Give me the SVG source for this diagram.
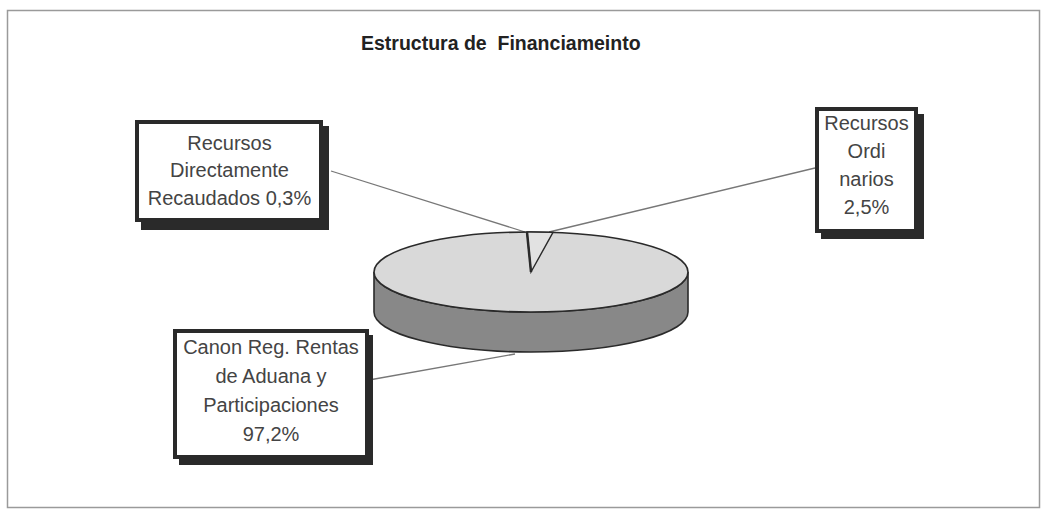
<svg xmlns="http://www.w3.org/2000/svg" width="1049" height="510" viewBox="0 0 1049 510">
<defs>
<style>
.frame{fill:none;stroke:#9a9a9a;stroke-width:1.5}
.title{font-family:"Liberation Sans",Arial,sans-serif;font-weight:bold;font-size:19.5px;fill:#222}
.lbl{font-family:"Liberation Sans",Arial,sans-serif;font-size:20px;fill:#444;text-anchor:middle}
.shadow{fill:#2a2a2a}
.box{fill:#fff;stroke:#2a2a2a;stroke-width:4}
.lead{fill:none;stroke:#777;stroke-width:1.3}
.top{fill:#d9d9d9;stroke:#2a2a2a;stroke-width:1.6}
.side{fill:#888;stroke:#2a2a2a;stroke-width:1.6}
</style>
</defs>
<rect width="1049" height="510" fill="#fff"/>
<rect class="frame" x="7.5" y="10.5" width="1032" height="497"/>
<text class="title" x="361" y="50" xml:space="preserve">Estructura de  Financiameinto</text>

<g id="connectors">
<line class="lead" x1="331" y1="171" x2="525" y2="232"/>
<line class="lead" x1="815" y1="168" x2="549" y2="232"/>
<line class="lead" x1="369" y1="380" x2="515" y2="354"/>
</g>

<g id="pie">
<path class="side" d="M374,272 L374,312 A157,40 0 0 0 688,312 L688,272 A157,40 0 0 1 374,272 Z"/>
<ellipse class="top" cx="531" cy="272" rx="157" ry="40"/>
<path d="M531,272 L527,232 A157,40 0 0 1 553,232.4 Z" fill="#e2e2e2" stroke="#2a2a2a" stroke-width="1.4"/>
<line x1="531" y1="272" x2="527" y2="232" stroke="#2a2a2a" stroke-width="2.5"/>
</g>

<g id="node-directos">
<rect class="shadow" x="141" y="126" width="188" height="104"/>
<rect class="box" x="137" y="122" width="184" height="98"/>
<text class="lbl" x="229.5" y="150">Recursos</text>
<text class="lbl" x="229.5" y="177">Directamente</text>
<text class="lbl" x="229.5" y="205">Recaudados 0,3%</text>
</g>

<g id="node-ordinarios">
<rect class="shadow" x="821" y="114" width="103" height="125"/>
<rect class="box" x="817" y="109" width="99" height="122"/>
<text class="lbl" x="866.5" y="130">Recursos</text>
<text class="lbl" x="866.5" y="158">Ordi</text>
<text class="lbl" x="866.5" y="186">narios</text>
<text class="lbl" x="866.5" y="214">2,5%</text>
</g>

<g id="node-canon">
<rect class="shadow" x="179" y="335" width="194" height="130"/>
<rect class="box" x="175" y="331" width="192" height="126"/>
<text class="lbl" x="271" y="354">Canon Reg. Rentas</text>
<text class="lbl" x="271" y="383">de Aduana y</text>
<text class="lbl" x="271" y="412">Participaciones</text>
<text class="lbl" x="271" y="441">97,2%</text>
</g>
</svg>
